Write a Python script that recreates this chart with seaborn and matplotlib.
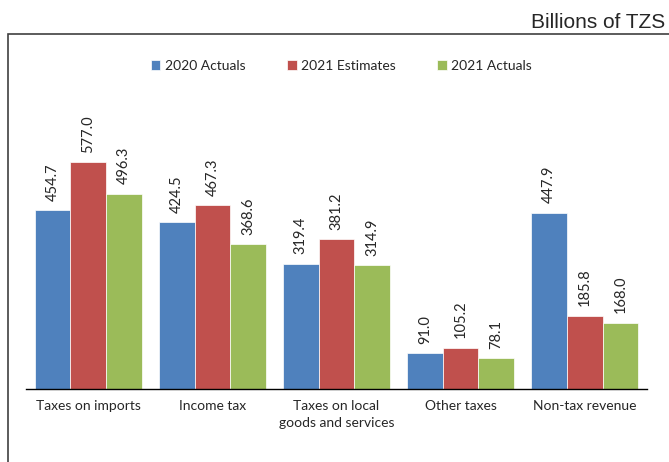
import pandas as pd
import matplotlib.pyplot as plt
import matplotlib.patches as mpatches
import seaborn as sns

categories = ['Taxes on imports', 'Income tax', 'Taxes on local\ngoods and services',
              'Other taxes', 'Non-tax revenue']
series = ['2020 Actuals', '2021 Estimates', '2021 Actuals']
actuals_2020 = [454.7, 424.5, 319.4, 91.0, 447.9]
estimates_2021 = [577.0, 467.3, 381.2, 105.2, 185.8]
actuals_2021 = [496.3, 368.6, 314.9, 78.1, 168.0]

PALETTE = {'2020 Actuals': '#4F81BD', '2021 Estimates': '#C0504D', '2021 Actuals': '#9BBB59'}

sns.set_theme(style="white")
plt.rcParams['font.family'] = ['Lato', 'DejaVu Sans']

df = pd.DataFrame({
    'category': categories * 3,
    'series': [s for s in series for _ in categories],
    'value': actuals_2020 + estimates_2021 + actuals_2021,
})

fig = plt.figure(figsize=(6.69, 4.62), dpi=100)
ax = fig.add_axes([0.039, 0.158, 0.928, 0.595])

sns.barplot(data=df, x='category', y='value', hue='series', order=categories,
            hue_order=series, palette=PALETTE, width=0.86, saturation=1,
            edgecolor='white', linewidth=0.5, ax=ax)

for container in ax.containers:
    ax.bar_label(container, fmt='%.1f', rotation=90, padding=7, fontsize=10.5)

ax.set_ylim(0, 700)
ax.set_xlim(-0.5, 4.5)
ax.set_xlabel('')
ax.set_ylabel('')
ax.set_yticks([])
for side in ['top', 'right', 'left']:
    ax.spines[side].set_visible(False)
ax.spines['bottom'].set_color('black')
ax.spines['bottom'].set_linewidth(1)

ax.set_xticks(range(len(categories)))
ax.set_xticklabels(categories, fontsize=10, linespacing=1.5)
ax.tick_params(axis='x', which='major', length=0, pad=8)
ax.set_xticks([i - 0.5 for i in range(len(categories) + 1)], minor=True)
ax.tick_params(axis='x', which='minor', length=5, width=1, color='black', direction='out')

handles, labels = ax.get_legend_handles_labels()
ax.legend(handles, labels, loc='center', bbox_to_anchor=(0.51, 0.858),
          bbox_transform=fig.transFigure, ncol=3, frameon=False, fontsize=10,
          handlelength=0.7, handleheight=0.7, handletextpad=0.3, columnspacing=3.0)

# chart frame
fig.patches.append(mpatches.Rectangle((8 / 669, -0.1), 1.2, 1.1 - 34 / 462,
                                      transform=fig.transFigure, fill=False,
                                      edgecolor='#404040', linewidth=1.2, clip_on=False))
fig.text(0.995, 1 - 22 / 462, 'Billions of TZS', ha='right', va='center',
         fontsize=15, family=['Liberation Sans', 'DejaVu Sans'])

fig.savefig('out.png', dpi=100)
